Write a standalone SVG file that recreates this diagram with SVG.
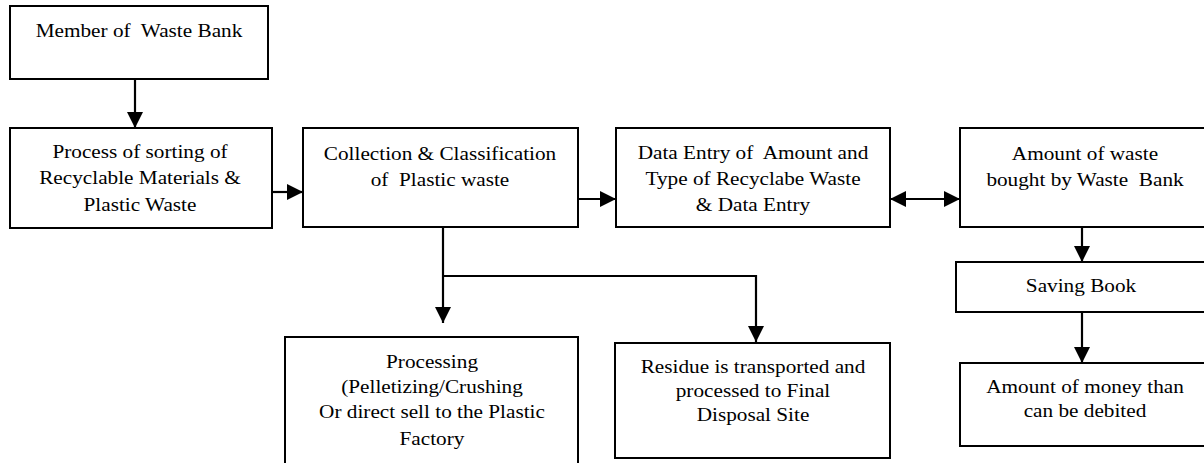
<svg xmlns="http://www.w3.org/2000/svg" width="1204" height="463" viewBox="0 0 1204 463">
<style>
  .box { fill: #ffffff; stroke: #000000; stroke-width: 2; }
  .lbl { font-family: 'Liberation Serif', 'Times New Roman', serif; font-size: 19.5px; fill: #000000; text-anchor: middle; white-space: pre; }
  .conn { fill: none; stroke: #000000; stroke-width: 2.2; }
</style>
<defs>
  <marker id="arrow" markerUnits="userSpaceOnUse" markerWidth="16" markerHeight="16" refX="15" refY="7.5" orient="auto-start-reverse" viewBox="0 0 15 15">
    <path d="M0,0 L15,7.5 L0,15 z" fill="#000000"/>
  </marker>
</defs>
<rect width="1204" height="463" fill="#ffffff"/>

<g id="connectors">
  <line class="conn" x1="135" y1="79" x2="135" y2="128" marker-end="url(#arrow)"/>
  <line class="conn" x1="272" y1="192" x2="303" y2="192" marker-end="url(#arrow)"/>
  <line class="conn" x1="578" y1="199" x2="616" y2="199" marker-end="url(#arrow)"/>
  <line class="conn" x1="890" y1="199" x2="960" y2="199" marker-start="url(#arrow)" marker-end="url(#arrow)"/>
  <line class="conn" x1="1082" y1="227" x2="1082" y2="262" marker-end="url(#arrow)"/>
  <line class="conn" x1="1082" y1="312" x2="1082" y2="363" marker-end="url(#arrow)"/>
  <line class="conn" x1="443" y1="227" x2="443" y2="323" marker-end="url(#arrow)"/>
  <polyline class="conn" points="443,276 756,276 756,342" marker-end="url(#arrow)"/>
</g>

<g id="member">
  <rect class="box" x="10" y="6" width="258" height="73"/>
  <text class="lbl" xml:space="preserve" transform="translate(139 36.5) scale(1.09 1)"><tspan x="0" y="0">Member of  Waste Bank</tspan></text>
</g>

<g id="sorting">
  <rect class="box" x="10" y="128" width="262" height="100"/>
  <text class="lbl" transform="translate(140 158) scale(1.09 1)"><tspan x="0" y="0">Process of sorting of</tspan><tspan x="0" y="26.5">Recyclable Materials &amp;</tspan><tspan x="0" y="53">Plastic Waste</tspan></text>
</g>

<g id="collection">
  <rect class="box" x="303" y="128" width="275" height="99"/>
  <text class="lbl" xml:space="preserve" transform="translate(440 160) scale(1.09 1)"><tspan x="0" y="0">Collection &amp; Classification</tspan><tspan x="0" y="26.5">of  Plastic waste</tspan></text>
</g>

<g id="dataentry">
  <rect class="box" x="616" y="128" width="274" height="99"/>
  <text class="lbl" xml:space="preserve" transform="translate(753 158.5) scale(1.09 1)"><tspan x="0" y="0">Data Entry of  Amount and</tspan><tspan x="0" y="26.5">Type of Recyclabe Waste</tspan><tspan x="0" y="53">&amp; Data Entry</tspan></text>
</g>

<g id="bought">
  <rect class="box" x="960" y="128" width="250" height="99"/>
  <text class="lbl" xml:space="preserve" transform="translate(1085 159.5) scale(1.09 1)"><tspan x="0" y="0">Amount of waste</tspan><tspan x="0" y="26.5">bought by Waste  Bank</tspan></text>
</g>

<g id="saving">
  <rect class="box" x="956" y="262" width="254" height="50"/>
  <text class="lbl" transform="translate(1081 292) scale(1.09 1)"><tspan x="0" y="0">Saving Book</tspan></text>
</g>

<g id="money">
  <rect class="box" x="960" y="363" width="250" height="83"/>
  <text class="lbl" transform="translate(1085 393) scale(1.09 1)"><tspan x="0" y="0">Amount of money than</tspan><tspan x="0" y="24.5">can be debited</tspan></text>
</g>

<g id="processing">
  <rect class="box" x="285" y="337" width="293" height="140"/>
  <text class="lbl" transform="translate(432 368) scale(1.09 1)"><tspan x="0" y="0">Processing</tspan><tspan x="0" y="25">(Pelletizing/Crushing</tspan><tspan x="0" y="50.5">Or direct sell to the Plastic</tspan><tspan x="0" y="77">Factory</tspan></text>
</g>

<g id="residue">
  <rect class="box" x="615" y="343" width="275" height="115"/>
  <text class="lbl" transform="translate(753 373) scale(1.09 1)"><tspan x="0" y="0">Residue is transported and</tspan><tspan x="0" y="24">processed to Final</tspan><tspan x="0" y="48">Disposal Site</tspan></text>
</g>
</svg>
